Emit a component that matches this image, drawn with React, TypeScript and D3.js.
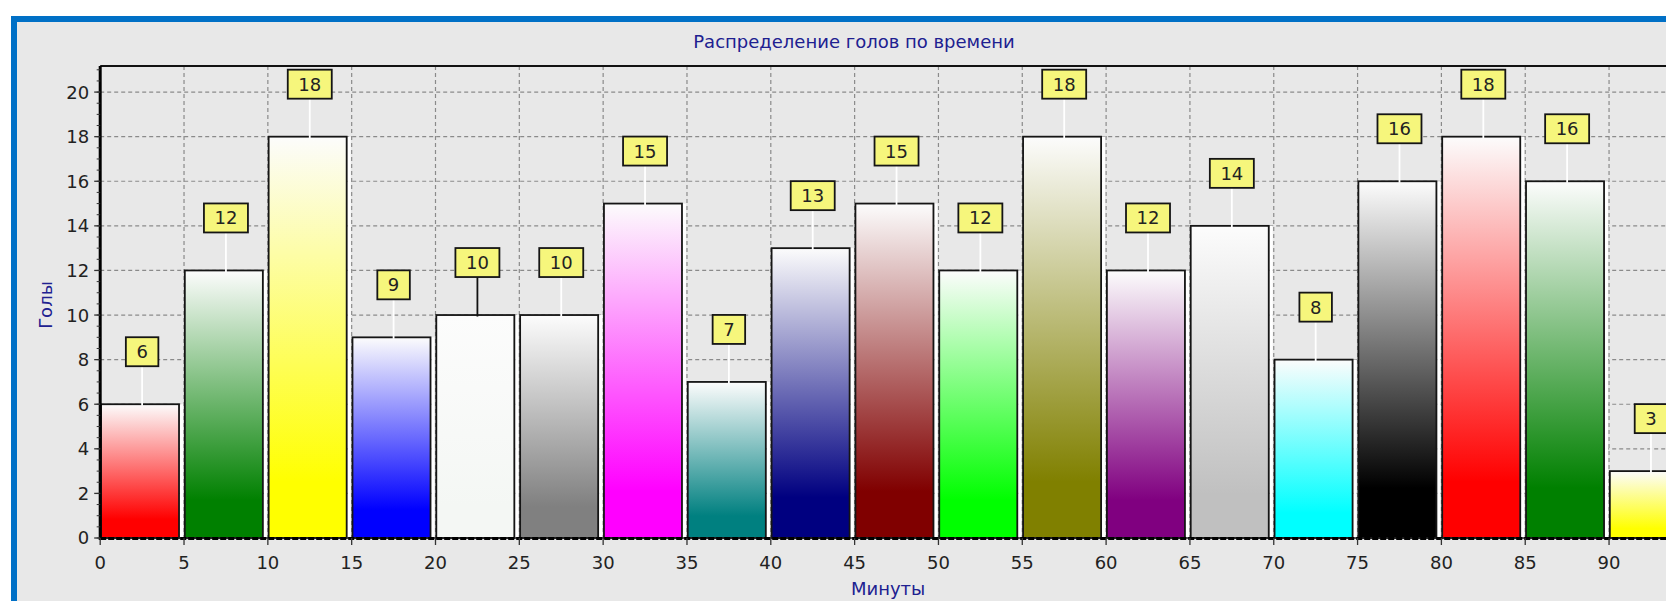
import React from 'react'
import { scaleLinear, range } from 'd3'

// goals per 5-minute interval
const binStarts = [0, 5, 10, 15, 20, 25, 30, 35, 40, 45, 50, 55, 60, 65, 70, 75, 80, 85, 90]
const goals = [6, 12, 18, 9, 10, 10, 15, 7, 13, 15, 12, 18, 12, 14, 8, 16, 18, 16, 3]
const barColors = [
  '#ff0000', '#008000', '#ffff00', '#0000ff', '#f4f7f4', '#808080', '#ff00ff', '#008080',
  '#000080', '#800000', '#00ff00', '#808000', '#800080', '#c0c0c0', '#00ffff', '#000000',
  '#ff0000', '#008000', '#ffff00'
]
const yTicks = [0, 2, 4, 6, 8, 10, 12, 14, 16, 18, 20]
const xTicks = [0, 5, 10, 15, 20, 25, 30, 35, 40, 45, 50, 55, 60, 65, 70, 75, 80, 85, 90]

const title = 'Распределение голов по времени'
const xTitle = 'Минуты'
const yTitle = 'Голы'

const W = 1666
const H = 601
const font = '"DejaVu Sans", sans-serif'

export default function App() {
  const x = scaleLinear().domain([0, 95]).range([100.2, 100.2 + 95 * 16.765])
  const y = scaleLinear().domain([0, 21.17]).range([538, 66])
  const minor = range(0, 21.01, 0.5)

  return (
    <svg width={W} height={H} style={{ position: 'absolute', left: 0, top: 0 }}>
      <defs>
        {barColors.map((c, i) => (
          <linearGradient key={i} id={`g${i}`} x1='0' y1='0' x2='0' y2='1'>
            <stop offset='0' stopColor='#fcfcfc' />
            <stop offset='0.86' stopColor={c} />
            <stop offset='1' stopColor={c} />
          </linearGradient>
        ))}
        <clipPath id='plot'>
          <rect x={x(0)} y={y(21.17)} width={W} height={y(0) - y(21.17) + 2} />
        </clipPath>
      </defs>
      <rect x={0} y={0} width={W} height={H} fill='#ffffff' />
      <rect x={11} y={16} width={W} height={H} fill='#0070c6' />
      <rect x={17} y={22} width={W} height={H} fill='#e8e8e8' />

      <text x={854} y={48} textAnchor='middle' fontFamily={font} fontSize={18} fill='#202090'>{title}</text>

      {/* grid */}
      <g stroke='#8a8a8a' strokeWidth={1.2} strokeDasharray='4,3'>
        {yTicks.filter(t => t > 0).map(t => (
          <line key={t} x1={x(0)} x2={W} y1={y(t)} y2={y(t)} />
        ))}
        {xTicks.filter(t => t > 0).map(t => (
          <line key={t} x1={x(t)} x2={x(t)} y1={y(21.17)} y2={y(0)} />
        ))}
      </g>

      {/* bars */}
      <g clipPath='url(#plot)'>
        {goals.map((v, i) => {
          const x0 = x(binStarts[i]) + 0.8
          const x1 = x(binStarts[i] + 5) - 5
          return (
            <g key={i}>
              <rect x={x1 + 1} y={y(v)} width={3} height={y(0) - y(v)} fill='#ffffff' />
              <rect x={x0} y={y(v)} width={x1 - x0} height={y(0) - y(v)}
                fill={`url(#g${i})`} stroke='#151515' strokeWidth={1.8} />
            </g>
          )
        })}
      </g>

      {/* axes */}
      <line x1={x(0)} x2={W} y1={y(21.17)} y2={y(21.17)} stroke='#111' strokeWidth={1.8} />
      <line x1={x(0)} x2={W} y1={y(0)} y2={y(0)} stroke='#222' strokeWidth={1.5} />
      <line x1={x(0)} x2={W} y1={y(0) + 0.5} y2={y(0) + 0.5} stroke='#000' strokeWidth={3} strokeDasharray='6,2' />
      <line x1={x(0)} x2={x(0)} y1={y(21.17)} y2={y(0) + 2} stroke='#000' strokeWidth={3} />
      {minor.map(t => (
        <line key={t} x1={x(0) - 3.5} x2={x(0)} y1={y(t)} y2={y(t)} stroke='#333' strokeWidth={1} />
      ))}
      {yTicks.map(t => (
        <g key={t}>
          <line x1={x(0) - 6} x2={x(0)} y1={y(t)} y2={y(t)} stroke='#333' strokeWidth={1.3} />
          <text x={x(0) - 11} y={y(t)} dy='0.36em' textAnchor='end' fontFamily={font} fontSize={18} fill='#222'>{t}</text>
        </g>
      ))}
      {xTicks.map(t => (
        <g key={t}>
          <line x1={x(t)} x2={x(t)} y1={y(0)} y2={y(0) + 7} stroke='#333' strokeWidth={1.3} />
          <text x={x(t)} y={y(0) + 31} textAnchor='middle' fontFamily={font} fontSize={18} fill='#222'>{t}</text>
        </g>
      ))}
      <text x={x(47)} y={595} textAnchor='middle' fontFamily={font} fontSize={18} fill='#202090'>{xTitle}</text>
      <text transform={`translate(52,305) rotate(-90)`} textAnchor='middle' fontFamily={font} fontSize={18} fill='#202090'>{yTitle}</text>

      {/* marks */}
      {goals.map((v, i) => {
        const cx = x(binStarts[i] + 2.5)
        const top = y(v)
        const label = String(v)
        const bw = label.length * 11.5 + 21
        const bh = 29
        const by = top - 38 - bh
        return (
          <g key={i}>
            <line x1={cx} x2={cx} y1={top - 38} y2={top + 1.5}
              stroke={barColors[i] === '#f4f7f4' ? '#111' : '#ffffff'} strokeWidth={1.8} />
            <rect x={cx - bw / 2} y={by} width={bw} height={bh} fill='#f6f67c' stroke='#151515' strokeWidth={1.8} />
            <text x={cx} y={by + bh / 2} dy='0.36em' textAnchor='middle' fontFamily={font} fontSize={18} fill='#222'>{label}</text>
          </g>
        )
      })}
    </svg>
  )
}
